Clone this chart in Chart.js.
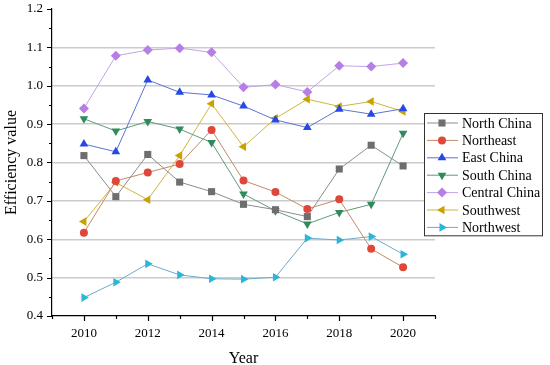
<!DOCTYPE html>
<html>
<head>
<meta charset="utf-8">
<script src="https://cdn.jsdelivr.net/npm/chart.js@4.4.1/dist/chart.umd.min.js"></script>
<style>
  html, body { margin: 0; padding: 0; background: #fff; }
  canvas { display: block; }
</style>
</head>
<body>
<canvas id="chart" width="550" height="365"></canvas>
<script>
// years and efficiency values
const years = [2010, 2011, 2012, 2013, 2014, 2015, 2016, 2017, 2018, 2019, 2020];

const northChina   = [0.818, 0.711, 0.821, 0.749, 0.724, 0.691, 0.677, 0.659, 0.783, 0.845, 0.791];
const northeast    = [0.617, 0.752, 0.774, 0.796, 0.885, 0.753, 0.723, 0.679, 0.704, 0.575, 0.527];
const eastChina    = [0.848, 0.828, 1.015, 0.983, 0.976, 0.947, 0.911, 0.891, 0.939, 0.926, 0.940];
const southChina   = [0.914, 0.882, 0.907, 0.887, 0.852, 0.718, 0.674, 0.640, 0.670, 0.691, 0.876];
const centralChina = [0.941, 1.078, 1.093, 1.098, 1.087, 0.996, 1.003, 0.984, 1.052, 1.050, 1.059];
const southwest    = [0.646, 0.748, 0.703, 0.818, 0.953, 0.841, 0.915, 0.965, 0.946, 0.959, 0.933];
const northwest    = [0.448, 0.488, 0.536, 0.507, 0.497, 0.496, 0.501, 0.603, 0.598, 0.607, 0.561];

const FONT = '"Liberation Serif", "Times New Roman", serif';

function makeSet(label, values, marker, line, style, rotation, radius) {
  return {
    label: label,
    data: years.map((y, i) => ({ x: y, y: values[i] })),
    borderColor: line,
    borderWidth: 1,
    backgroundColor: marker,
    pointBackgroundColor: marker,
    pointBorderColor: marker,
    pointBorderWidth: 0,
    pointStyle: style,
    pointRotation: rotation,
    pointRadius: radius,
    tension: 0,
  };
}

const datasets = [
  makeSet("North China", northChina, "#6e6e6e", "#8c8c8c", "rect", 0, 5),
  makeSet("Northeast", northeast, "#e0463a", "#c4896a", "circle", 0, 4),
  makeSet("East China", eastChina, "#2548e6", "#5a74d6", "triangle", 0, 5),
  makeSet("South China", southChina, "#2f8a5c", "#5e9c78", "triangle", 180, 5),
  makeSet("Central China", centralChina, "#b67ee6", "#c2a2e8", "rectRot", 0, 5),
  makeSet("Southwest", southwest, "#c8a200", "#cfb540", "triangle", 270, 5),
  makeSet("Northwest", northwest, "#2ab6da", "#6faac8", "triangle", 90, 5),
];

const isTenth = (v) => Math.abs(v * 10 - Math.round(v * 10)) < 1e-6;

// tick marks: major with labels, minor in between
const tickMarks = {
  id: "tickMarks",
  afterDraw(chart) {
    const ctx = chart.ctx;
    const xs = chart.scales.x;
    const ys = chart.scales.y;
    ctx.save();
    ctx.strokeStyle = "#000";
    ctx.lineWidth = 1.2;
    ctx.beginPath();
    for (let yr = 2009; yr <= 2021; yr++) {
      const px = Math.round(xs.getPixelForValue(yr)) + 0.5;
      const len = yr % 2 === 0 ? 5 : 3;
      ctx.moveTo(px, xs.top);
      ctx.lineTo(px, xs.top + len);
    }
    for (let k = 0; k <= 16; k++) {
      const v = 0.4 + k * 0.05;
      const py = Math.round(ys.getPixelForValue(v)) + 0.5;
      const len = k % 2 === 0 ? 5 : 3;
      ctx.moveTo(ys.right, py);
      ctx.lineTo(ys.right - len, py);
    }
    ctx.stroke();
    ctx.restore();
  },
};

// boxed legend sitting over the right edge of the plot
const boxLegend = {
  id: "boxLegend",
  afterDraw(chart) {
    const ctx = chart.ctx;
    const left = 424, top = 113, w = 118, rowH = 17.4;
    const h = rowH * datasets.length + 0.5;
    ctx.save();
    ctx.fillStyle = "#fff";
    ctx.fillRect(left, top, w, h);
    ctx.strokeStyle = "#333";
    ctx.lineWidth = 1;
    ctx.strokeRect(left + 0.5, top + 0.5, w, h);
    ctx.font = "14px " + FONT;
    ctx.textBaseline = "middle";
    chart.data.datasets.forEach((ds, i) => {
      const y = top + 10 + i * rowH;
      ctx.strokeStyle = ds.borderColor;
      ctx.lineWidth = 1;
      ctx.beginPath();
      ctx.moveTo(left + 3, y);
      ctx.lineTo(left + 34, y);
      ctx.stroke();
      ctx.fillStyle = ds.pointBackgroundColor;
      ctx.strokeStyle = ds.pointBorderColor;
      Chart.helpers.drawPoint(ctx, {
        pointStyle: ds.pointStyle,
        rotation: ds.pointRotation,
        radius: ds.pointRadius,
        borderWidth: 0,
      }, left + 18, y);
      ctx.fillStyle = "#000";
      ctx.fillText(ds.label, left + 38, y + 1);
    });
    ctx.restore();
  },
};

const options = {
  responsive: false,
  animation: false,
  devicePixelRatio: 1,
  layout: { padding: { top: 9, right: 115, left: 0, bottom: 0 } },
  plugins: {
    legend: { display: false },
    tooltip: { enabled: false },
  },
  scales: {
    x: {
      type: "linear",
      min: 2009,
      max: 2021,
      afterFit(scale) {
        scale.height = 49;
        scale.paddingLeft = 0;
        scale.paddingRight = 0;
      },
      ticks: {
        stepSize: 1,
        autoSkip: false,
        maxRotation: 0,
        padding: 10,
        color: "#000",
        font: { family: FONT, size: 13 },
        callback: (v) => (v % 2 === 0 && v > 2009 && v < 2021 ? String(v) : ""),
      },
      grid: { drawOnChartArea: false, drawTicks: false },
      border: { color: "#000", width: 1.2 },
      title: {
        display: true,
        text: "Year",
        color: "#000",
        font: { family: FONT, size: 16 },
        padding: { top: 0, bottom: -3 },
      },
    },
    y: {
      min: 0.4,
      max: 1.2,
      afterFit(scale) {
        scale.width = 52;
        scale.paddingTop = 0;
        scale.paddingBottom = 0;
      },
      ticks: {
        stepSize: 0.05,
        autoSkip: false,
        padding: 9,
        color: "#000",
        font: { family: FONT, size: 13 },
        callback: (v) => (isTenth(v) ? v.toFixed(1) : ""),
      },
      grid: {
        drawTicks: false,
        lineWidth: 1.5,
        color: (c) => {
          const v = c.tick ? c.tick.value : 0;
          return isTenth(v) && v > 0.45 && v < 1.15 ? "#cccccc" : "rgba(0,0,0,0)";
        },
      },
      border: { color: "#000", width: 1.2 },
      title: {
        display: true,
        text: "Efficiency value",
        color: "#000",
        font: { family: FONT, size: 16 },
        padding: { top: 2, bottom: 0 },
      },
    },
  },
};

var chart = new Chart(document.getElementById("chart").getContext("2d"), {
  type: "line",
  data: { datasets: datasets },
  options: options,
  plugins: [tickMarks, boxLegend],
});
</script>
</body>
</html>
